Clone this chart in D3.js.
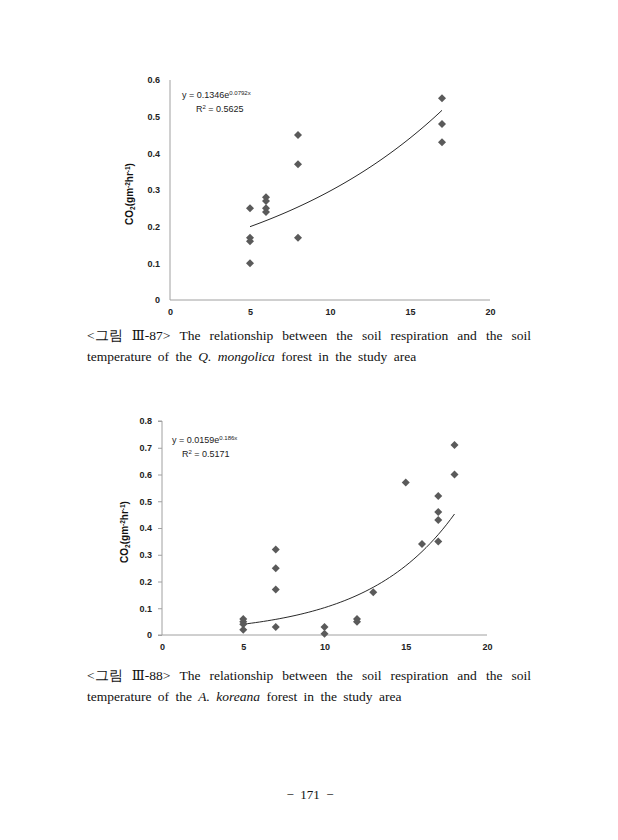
<!DOCTYPE html>
<html>
<head>
<meta charset="utf-8">
<script src="https://cdn.jsdelivr.net/npm/d3@7"></script>
<style>
  body { margin: 0; background: #fff; }
  svg { display: block; }
</style>
</head>
<body>
<div id="page"></div>
<script>
// data
var temp1 = [5, 5, 5, 5, 6, 6, 6, 6, 8, 8, 8, 17, 17, 17];
var resp1 = [0.25, 0.17, 0.16, 0.10, 0.28, 0.27, 0.25, 0.24, 0.45, 0.37, 0.17, 0.55, 0.48, 0.43];
var fit1 = {a: 0.1346, b: 0.0792, from: 5, to: 17};
var eq1 = ["y = 0.1346e", "0.0792x", "0.5625"];

var temp2 = [5, 5, 5, 5, 7, 7, 7, 7, 10, 10, 12, 12, 13, 15, 16, 17, 17, 17, 17, 18, 18];
var resp2 = [0.06, 0.05, 0.04, 0.02, 0.32, 0.25, 0.17, 0.03, 0.03, 0.005, 0.06, 0.05, 0.16, 0.57, 0.34, 0.52, 0.46, 0.43, 0.35, 0.71, 0.60];
var fit2 = {a: 0.0159, b: 0.186, from: 5, to: 18};
var eq2 = ["y = 0.0159e", "0.186x", "0.5171"];

var xTicks = [0, 5, 10, 15, 20];
var yTicks1 = [0, 0.1, 0.2, 0.3, 0.4, 0.5, 0.6];
var yTicks2 = [0, 0.1, 0.2, 0.3, 0.4, 0.5, 0.6, 0.7, 0.8];

var caption1 = ["<그림", "Ⅲ-87>", "The", "relationship", "between", "the", "soil", "respiration", "and", "the", "soil"];
var caption1b = [["temperature of the ", false], ["Q. mongolica", true], [" forest in the study area", false]];
var caption2 = ["<그림", "Ⅲ-88>", "The", "relationship", "between", "the", "soil", "respiration", "and", "the", "soil"];
var caption2b = [["temperature of the ", false], ["A. koreana", true], [" forest in the study area", false]];

var w = 618, h = 840;
var svg = d3.select("#page").append("svg")
    .attr("width", w)
    .attr("height", h);

svg.append("rect").attr("width", w).attr("height", h).attr("fill", "#fff");

var sans = "'Liberation Sans', Arial, sans-serif";
var serif = "'Liberation Serif', 'DejaVu Serif', serif";

function drawChart(opt) {
  var g = svg.append("g");
  var x = d3.scaleLinear().domain([0, 20]).range([opt.left, opt.right]);
  var y = d3.scaleLinear().domain([0, opt.ymax]).range([opt.bottom, opt.top]);

  // axes
  var yAxis = d3.axisLeft(y).tickValues(opt.yTicks)
      .tickSize(opt.tick).tickPadding(opt.tick ? 6 : 10)
      .tickFormat(d => d === 0 ? "0" : d3.format(".1f")(d));
  var xAxis = d3.axisBottom(x).tickValues(xTicks).tickSize(0).tickPadding(9);

  var ya = g.append("g").attr("transform", `translate(${opt.left},0)`).call(yAxis);
  var xa = g.append("g").attr("transform", `translate(0,${opt.bottom})`).call(xAxis);
  [ya, xa].forEach(function(a) {
    a.select(".domain").attr("stroke", "#a0a0a0");
    a.selectAll(".tick line").attr("stroke", "#a0a0a0");
    a.selectAll("text").attr("font-family", sans).attr("font-weight", "bold")
      .attr("font-size", 9).attr("fill", "#222");
  });
  ya.select(".domain").attr("d", `M${-opt.tick},${opt.top}H0V${opt.bottom}`);
  xa.select(".domain").attr("d", `M${opt.left - opt.tick},0H${opt.right}`);

  // y label
  var lab = g.append("text")
      .attr("transform", `translate(${opt.labX},${(opt.top + opt.bottom) / 2 + 4}) rotate(-90)`)
      .attr("text-anchor", "middle")
      .attr("font-family", sans).attr("font-weight", "bold")
      .attr("font-size", 10).attr("fill", "#111");
  lab.append("tspan").text("CO");
  lab.append("tspan").attr("font-size", 6.5).attr("dy", 2).text("2");
  lab.append("tspan").attr("dy", -2).text("(gm");
  lab.append("tspan").attr("font-size", 6.5).attr("dy", -3.5).text("-2");
  lab.append("tspan").attr("dy", 3.5).text("hr");
  lab.append("tspan").attr("font-size", 6.5).attr("dy", -3.5).text("-1");
  lab.append("tspan").attr("dy", 3.5).text(")");

  // trend line
  var xs = d3.range(opt.fit.from, opt.fit.to + 0.001, 0.25);
  var line = d3.line().x(d => x(d)).y(d => y(opt.fit.a * Math.exp(opt.fit.b * d)));
  g.append("path").datum(xs)
      .attr("d", line)
      .attr("fill", "none")
      .attr("stroke", "#111")
      .attr("stroke-width", 0.9);

  // points
  var sym = d3.symbol().type(d3.symbolSquare).size(32);
  g.selectAll(".pt").data(opt.xs.map((d, i) => [d, opt.ys[i]]))
    .enter().append("path")
      .attr("class", "pt")
      .attr("d", sym)
      .attr("transform", d => `translate(${x(d[0])},${y(d[1])}) rotate(45)`)
      .attr("fill", "#5a5a5a");

  // equation
  var e = g.append("text").attr("x", opt.eqX).attr("y", opt.eqY)
      .attr("font-family", sans).attr("font-size", 9).attr("fill", "#222");
  e.append("tspan").text(opt.eq[0]);
  e.append("tspan").attr("font-size", 6).attr("dy", -3.5).text(opt.eq[1]);
  var r = g.append("text").attr("x", opt.eqX + opt.rOff).attr("y", opt.eqY + 14)
      .attr("font-family", sans).attr("font-size", 9).attr("fill", "#222");
  r.append("tspan").text("R");
  r.append("tspan").attr("font-size", 6).attr("dy", -3.5).text("2");
  r.append("tspan").attr("dy", 3.5).text(" = " + opt.eq[2]);
}

drawChart({left: 170, right: 490, top: 80, bottom: 300, ymax: 0.6, yTicks: yTicks1, tick: 0,
  xs: temp1, ys: resp1, fit: fit1, eq: eq1, eqX: 182, eqY: 98, rOff: 14, labX: 133});
drawChart({left: 162, right: 487, top: 421, bottom: 635, ymax: 0.8, yTicks: yTicks2, tick: 4,
  xs: temp2, ys: resp2, fit: fit2, eq: eq2, eqX: 172, eqY: 443, rOff: 10, labX: 128});

// captions, justified on first line
function caption(words, second, y0) {
  var left = 87, right = 531;
  var t = svg.append("g").attr("font-family", serif).attr("font-size", 13.5).attr("fill", "#111");
  var nodes = words.map(function(wd) {
    return t.append("text").attr("y", y0).text(wd);
  });
  var widths = nodes.map(n => n.node().getComputedTextLength());
  var gap = (right - left - d3.sum(widths)) / (words.length - 1);
  var cx = left;
  nodes.forEach(function(n, i) {
    n.attr("x", cx);
    cx += widths[i] + gap;
  });
  var l2 = t.append("text").attr("x", left).attr("y", y0 + 21).attr("word-spacing", 3);
  second.forEach(function(s) {
    l2.append("tspan").attr("font-style", s[1] ? "italic" : null).text(s[0]);
  });
}
caption(caption1, caption1b, 340);
caption(caption2, caption2b, 680);

svg.append("text").attr("x", 310).attr("y", 799)
    .attr("text-anchor", "middle")
    .attr("font-family", serif).attr("font-size", 13).attr("fill", "#111")
    .attr("xml:space", "preserve")
    .text("\u2212\u00a0\u00a0171\u00a0\u00a0\u2212");
</script>
</body>
</html>
